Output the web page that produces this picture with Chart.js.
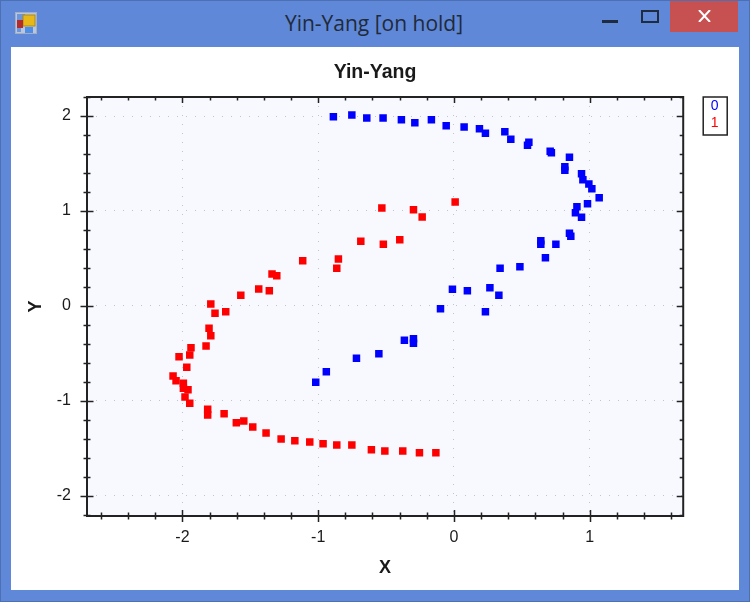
<!DOCTYPE html>
<html>
<head>
<meta charset="utf-8">
<title>Yin-Yang [on hold]</title>
<script src="https://cdn.jsdelivr.net/npm/chart.js@4/dist/chart.umd.min.js"></script>
<style>
  html, body { margin: 0; padding: 0; }
  body { width: 750px; height: 602px; background: #5f88d8; position: relative; overflow: hidden; }
  #frame { position: absolute; left: 0; top: 0; width: 748px; height: 600px; border: 1px solid #4d70b4; }
  #caption { position: absolute; left: 0; top: 9px; width: 748px; text-align: center; font: 21px "Open Sans", sans-serif; color: #1f2a3a; }
  #client { position: absolute; left: 11px; top: 47px; width: 728px; height: 543px; background: #fff; }
  #chart { position: absolute; left: 11px; top: 47px; }
  #close { position: absolute; left: 670px; top: 1px; width: 68px; height: 31px; background: #c75050; }
  svg { position: absolute; }
</style>
</head>
<body>
<div id="frame"></div>
<svg style="left:15px;top:12px" width="22" height="22">
  <rect x="0.5" y="0.5" width="21" height="21" fill="#b9c6dd" stroke="#a3aec2"/>
  <rect x="2" y="2" width="8" height="6" fill="#6d95de"/>
  <rect x="2" y="15" width="4" height="5" fill="#6d95de"/>
  <rect x="8" y="3" width="12" height="11" fill="#e8b818" stroke="#a88a20"/>
  <rect x="2" y="8" width="6" height="8" fill="#b32c2c"/>
  <rect x="10" y="15" width="8" height="6" fill="#4c8ee8"/>
</svg>
<div id="caption">Yin-Yang [on hold]</div>
<svg style="left:602px;top:20px" width="16" height="3"><rect width="16" height="3" fill="#1f2b40"/></svg>
<svg style="left:641px;top:10px" width="18" height="13"><rect x="1" y="1" width="16" height="11" fill="none" stroke="#1f2b40" stroke-width="2"/></svg>
<div id="close"></div>
<svg style="left:698px;top:10px" width="13" height="12"><path d="M1 0 L12 12 M12 0 L1 12" stroke="#fff" stroke-width="2"/></svg>
<div id="client"></div>
<canvas id="chart" width="728" height="543"></canvas>
<script>
const blueX = [-0.888, -0.752, -0.642, -0.522, -0.387, -0.288, -0.166, -0.057, 0.075, 0.188, 0.232, 0.375, 0.419, 0.552, 0.542, 0.709, 0.718, 0.851, 0.817, 0.817, 0.940, 0.950, 0.994, 1.016, 1.070, 0.984, 0.906, 0.895, 0.940, 0.851, 0.861, 0.640, 0.640, 0.751, 0.674, 0.486, 0.340, 0.265, 0.331, -0.011, 0.099, -0.099, 0.232, -0.365, -0.298, -0.298, -0.553, -0.718, -0.940, -1.018];
const blueY = [1.994, 2.012, 1.980, 1.980, 1.962, 1.930, 1.962, 1.899, 1.885, 1.867, 1.819, 1.836, 1.755, 1.724, 1.692, 1.629, 1.614, 1.566, 1.465, 1.430, 1.393, 1.330, 1.285, 1.235, 1.140, 1.077, 1.045, 0.982, 0.934, 0.765, 0.733, 0.687, 0.649, 0.649, 0.508, 0.413, 0.396, 0.192, 0.112, 0.175, 0.160, -0.030, -0.061, -0.362, -0.346, -0.394, -0.504, -0.552, -0.693, -0.805];
const redX = [0.009, -0.531, -0.298, -0.234, -0.686, -0.520, -0.399, -0.851, -0.863, -1.114, -1.340, -1.305, -1.438, -1.360, -1.570, -1.791, -1.681, -1.760, -1.804, -1.791, -1.826, -1.937, -1.946, -2.025, -1.968, -2.069, -2.047, -1.993, -1.993, -1.959, -1.981, -1.946, -1.814, -1.814, -1.693, -1.603, -1.548, -1.482, -1.384, -1.273, -1.172, -1.062, -0.964, -0.863, -0.752, -0.608, -0.509, -0.377, -0.254, -0.133];
const redY = [1.095, 1.032, 1.014, 0.937, 0.681, 0.649, 0.698, 0.494, 0.396, 0.476, 0.336, 0.318, 0.178, 0.160, 0.112, 0.020, -0.061, -0.078, -0.236, -0.314, -0.423, -0.440, -0.517, -0.535, -0.647, -0.739, -0.788, -0.816, -0.868, -0.883, -0.960, -1.026, -1.090, -1.150, -1.136, -1.231, -1.213, -1.276, -1.339, -1.403, -1.420, -1.434, -1.452, -1.466, -1.466, -1.515, -1.529, -1.529, -1.547, -1.547];
const seriesNames = ['0', '1'];
const seriesColors = ['#0000ff', '#ff0000'];

const FONT = '"Liberation Sans", Arial, sans-serif';
const AXIS_COLOR = '#222222';

function isWhole(v) {
  return Math.abs(v - Math.round(v)) < 1e-6;
}

function toPoints(xs, ys) {
  return xs.map((x, i) => ({ x: x, y: ys[i] }));
}

// plot background behind the grid
const plotBackground = {
  id: 'plotBackground',
  beforeDraw(chart) {
    const a = chart.chartArea;
    chart.ctx.fillStyle = '#f8f9ff';
    chart.ctx.fillRect(a.left, a.top, a.right - a.left, a.bottom - a.top);
  }
};

// box axis with crossing ticks on left/bottom, inner ticks on top/right, and legend frame
const plotFrame = {
  id: 'plotFrame',
  afterDatasetsDraw(chart) {
    const ctx = chart.ctx;
    const a = chart.chartArea;
    const sx = chart.scales.x;
    const sy = chart.scales.y;
    ctx.save();
    ctx.strokeStyle = AXIS_COLOR;
    ctx.lineWidth = 2;
    ctx.strokeRect(a.left, a.top, a.right - a.left, a.bottom - a.top);
    ctx.lineWidth = 1.5;
    sx.ticks.forEach(t => {
      const p = Math.round(sx.getPixelForValue(t.value)) + 0.5;
      const len = isWhole(t.value) ? 6 : 3.5;
      ctx.beginPath();
      ctx.moveTo(p, a.bottom - len);
      ctx.lineTo(p, a.bottom + len);
      ctx.moveTo(p, a.top);
      ctx.lineTo(p, a.top + len);
      ctx.stroke();
    });
    sy.ticks.forEach(t => {
      const p = Math.round(sy.getPixelForValue(t.value)) + 0.5;
      const len = isWhole(t.value) ? 6.5 : 3.5;
      ctx.beginPath();
      ctx.moveTo(a.left - len, p);
      ctx.lineTo(a.left + len, p);
      ctx.moveTo(a.right - len, p);
      ctx.lineTo(a.right, p);
      ctx.stroke();
    });
    const lg = chart.legend;
    ctx.lineWidth = 1.5;
    ctx.strokeRect(lg.left + 20, a.top, 24, 38);
    ctx.restore();
  }
};

new Chart(document.getElementById('chart'), {
  type: 'scatter',
  data: {
    datasets: [
      { label: seriesNames[0], data: toPoints(blueX, blueY), backgroundColor: seriesColors[0] },
      { label: seriesNames[1], data: toPoints(redX, redY), backgroundColor: seriesColors[1] }
    ]
  },
  options: {
    responsive: false,
    animation: false,
    layout: { padding: { left: 10.5, right: 10.5 } },
    elements: { point: { pointStyle: 'rect', radius: 5.3, borderWidth: 0 } },
    plugins: {
      tooltip: { enabled: false },
      title: {
        display: true,
        text: 'Yin-Yang',
        color: '#1a1a1a',
        font: { family: FONT, size: 19.5, weight: 'bold', lineHeight: 1.2 },
        padding: { top: 14, bottom: 12.6 }
      },
      legend: {
        position: 'right',
        align: 'start',
        fullSize: false,
        labels: {
          boxWidth: 18.5,
          boxHeight: 15,
          padding: 2,
          font: { family: FONT, size: 14 },
          generateLabels(chart) {
            return chart.data.datasets.map((d, i) => ({
              text: d.label,
              fontColor: seriesColors[i],
              fillStyle: 'transparent',
              strokeStyle: 'transparent',
              lineWidth: 0,
              datasetIndex: i
            }));
          }
        }
      }
    },
    scales: {
      x: {
        type: 'linear',
        min: -2.703,
        max: 1.689,
        afterFit(scale) { scale.height = 74; },
        title: { display: true, text: 'X', color: '#1a1a1a', font: { family: FONT, size: 18, weight: 'bold' }, padding: { top: 0, bottom: 11 } },
        border: { display: false, dash: [1, 8] },
        grid: {
          drawTicks: false,
          color: ctx => (isWhole(ctx.tick.value) ? '#c4c4c4' : 'transparent')
        },
        ticks: {
          stepSize: 0.2,
          includeBounds: false,
          autoSkip: false,
          maxRotation: 0,
          padding: 12,
          color: '#1a1a1a',
          font: { family: FONT, size: 16 },
          callback: v => (isWhole(v) ? String(Math.round(v)) : '')
        }
      },
      y: {
        type: 'linear',
        min: -2.214,
        max: 2.201,
        afterFit(scale) { scale.width = 65.5; },
        title: { display: true, text: 'Y', color: '#1a1a1a', font: { family: FONT, size: 18, weight: 'bold' }, padding: { top: 3.5, bottom: 0 } },
        border: { display: false, dash: [1, 8] },
        grid: {
          drawTicks: false,
          color: ctx => (isWhole(ctx.tick.value) ? '#c4c4c4' : 'transparent')
        },
        ticks: {
          stepSize: 0.2,
          includeBounds: false,
          autoSkip: false,
          padding: 16,
          color: '#1a1a1a',
          font: { family: FONT, size: 16 },
          callback: v => (isWhole(v) ? String(Math.round(v)) : '')
        }
      }
    }
  },
  plugins: [plotBackground, plotFrame]
});
</script>
</body>
</html>
